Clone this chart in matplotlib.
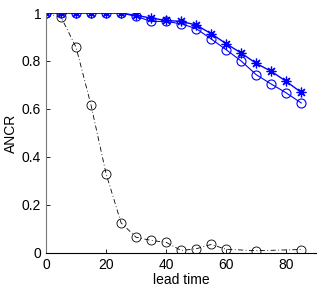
import matplotlib
matplotlib.use("Agg")
import matplotlib.pyplot as plt

plt.rcParams['font.family'] = ['Liberation Sans', 'DejaVu Sans']

lead = [0, 5, 10, 15, 20, 25, 30, 35, 40, 45, 50, 55, 60, 65, 70, 75, 80, 85]
ancr_star = [1.0, 1.0, 1.0, 1.0, 1.0, 1.0, 0.99, 0.979, 0.969, 0.965, 0.95, 0.914,
             0.872, 0.833, 0.79, 0.757, 0.715, 0.669]
ancr_circ = [1.0, 1.0, 1.0, 1.0, 1.0, 1.0, 0.986, 0.965, 0.965, 0.955, 0.935, 0.892,
             0.847, 0.80, 0.743, 0.704, 0.667, 0.625]

lead_ref = [0, 5, 10, 15, 20, 25, 30, 35, 40, 45, 50, 55, 60, 70, 85]
ancr_ref = [1.0, 0.983, 0.857, 0.615, 0.330, 0.125, 0.065, 0.052, 0.044, 0.010,
            0.017, 0.035, 0.015, 0.009, 0.014]

fig = plt.figure(figsize=(3.22, 2.89), dpi=100)
ax = fig.add_axes([0.143, 0.125, 0.839, 0.830])

ax.plot(lead_ref, ancr_ref, color='black', linestyle='-.', linewidth=0.6,
        marker='o', markersize=6.5, markerfacecolor='none', markeredgewidth=0.6,
        dashes=(6, 3, 1, 3))
ax.plot(lead, ancr_circ, color='blue', linewidth=0.8, marker='o', markersize=6.5,
        markerfacecolor='none', markeredgewidth=0.8)
# matlab-style asterisk marker
ax.plot(lead, ancr_star, color='blue', linewidth=1.0, marker=(8, 2, 0), markersize=7,
        markeredgewidth=0.9)

ax.set_xlim(0, 90)
ax.set_ylim(0, 1)
ax.set_xticks([0, 20, 40, 60, 80])
ax.set_yticks([0, 0.2, 0.4, 0.6, 0.8, 1])
ax.set_yticklabels(['0', '0.2', '0.4', '0.6', '0.8', '1'])
ax.tick_params(direction='in', length=3, labelsize=10, width=0.6)
ax.spines['top'].set_visible(False)
ax.spines['right'].set_visible(False)
ax.spines['left'].set_color('#777777')
ax.spines['left'].set_linewidth(0.8)
ax.spines['bottom'].set_linewidth(0.8)
ax.set_xlabel('lead time', fontsize=10, labelpad=1)
ax.set_ylabel('ANCR', fontsize=10, labelpad=3)
for lbl in ax.get_xticklabels() + ax.get_yticklabels():
    lbl.set_clip_on(False)

fig.savefig('out.png', dpi=100)
